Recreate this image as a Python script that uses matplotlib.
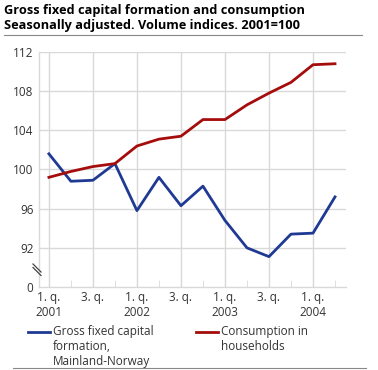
import numpy as np
import matplotlib
matplotlib.use("Agg")
from matplotlib import pyplot as plt
from matplotlib.lines import Line2D

# Quarterly values, 2001 Q1 - 2004 Q2
quarters = ["2001Q1", "2001Q2", "2001Q3", "2001Q4",
            "2002Q1", "2002Q2", "2002Q3", "2002Q4",
            "2003Q1", "2003Q2", "2003Q3", "2003Q4",
            "2004Q1", "2004Q2"]
investment = [101.6, 98.8, 98.9, 100.6, 95.8, 99.2, 96.3, 98.3,
              94.8, 92.0, 91.1, 93.4, 93.5, 97.2]
consumption = [99.2, 99.8, 100.3, 100.6, 102.4, 103.1, 103.4, 105.1,
               105.1, 106.6, 107.8, 108.9, 110.7, 110.8]

xlabels = ["1. q.\n2001", "3. q.", "1. q.\n2002", "3. q.",
           "1. q.\n2003", "3. q.", "1. q.\n2004"]
yticks = [88, 92, 96, 100, 104, 108, 112]
ylabels = ["0", "92", "96", "100", "104", "108", "112"]
series_names = ["Gross fixed capital\nformation,\nMainland-Norway",
                "Consumption in\nhouseholds"]

blue = "#1f3a93"
red = "#a50d0d"
grid = "#d9d9d9"
txt = "#333333"

plt.rcParams["font.family"] = ["Open Sans", "DejaVu Sans"]

fig = plt.figure(figsize=(3.78, 3.70), dpi=100)
W, H = 378.0, 370.0
ax = fig.add_axes([39 / W, 1 - 287 / H, (346 - 39) / W, (287 - 52) / H])

x = np.arange(len(quarters))
l1, = ax.plot(x, investment, color=blue, lw=2, solid_joinstyle="round")
l2, = ax.plot(x, consumption, color=red, lw=2, solid_joinstyle="round")

ax.set_xlim(-0.45, 13.5)
ax.set_ylim(88, 112)

ax.set_yticks(yticks)
ax.set_yticklabels(ylabels)
ax.set_xticks(x[::2])
ax.set_xticklabels(xlabels)
ax.set_xticks(x, minor=True)

for y in yticks[1:]:
    ax.axhline(y, color=grid, lw=1, zorder=0)
for xv in x[::2]:
    ax.axvline(xv, color=grid, lw=1, zorder=0)

ax.tick_params(axis="y", length=0, labelsize=8.5, colors=txt, pad=4)
ax.tick_params(axis="x", which="both", direction="in", length=5,
               color=grid, labelsize=8.5, labelcolor=txt, pad=3)

for s in ["top", "right"]:
    ax.spines[s].set_visible(False)
for s in ["left", "bottom"]:
    ax.spines[s].set_color(grid)
    ax.spines[s].set_linewidth(1)

# axis break marks
for dy in [0, 3.5]:
    fig.add_artist(Line2D([33 / W, 41 / W],
                          [1 - (264 + dy) / H, 1 - (272 + dy) / H],
                          color="#444444", lw=0.9))

# title and rules
fig.text(4 / W, 1 - 4 / H, "Gross fixed capital formation and consumption\n"
         "Seasonally adjusted. Volume indices. 2001=100",
         ha="left", va="top", fontsize=9.2, fontweight="bold",
         color="#000000", linespacing=1.25)
fig.add_artist(Line2D([4 / W, 362 / W], [1 - 35 / H, 1 - 35 / H],
                      color="#888888", lw=0.8))
fig.add_artist(Line2D([13 / W, 366 / W], [1 - 368 / H, 1 - 368 / H],
                      color="#888888", lw=0.8))

# legend, handles aligned with the first text line
for line, name, x0 in [(l1, series_names[0], 28), (l2, series_names[1], 196)]:
    fig.add_artist(Line2D([x0 / W, (x0 + 22) / W], [1 - 332 / H, 1 - 332 / H],
                          color=line.get_color(), lw=2))
    fig.text((x0 + 25) / W, 1 - 325 / H, name, ha="left", va="top",
             fontsize=8.5, color=txt, linespacing=1.2)

fig.savefig("out.png", dpi=100)
